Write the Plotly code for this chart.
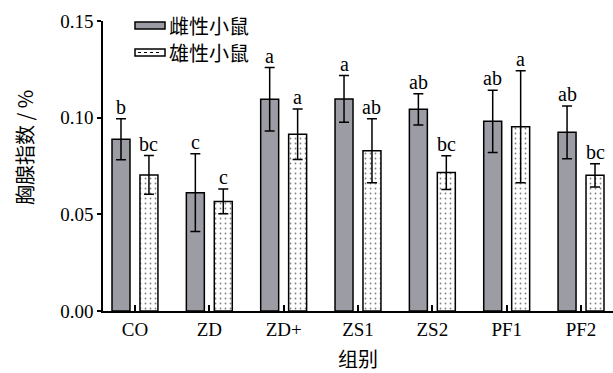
import plotly.graph_objects as go

# Thymus index by group, mean ± SD, with significance letters
groups = ["CO", "ZD", "ZD+", "ZS1", "ZS2", "PF1", "PF2"]
female_mean = [0.0888, 0.0612, 0.1095, 0.1097, 0.1043, 0.0981, 0.0924]
female_sd = [0.0106, 0.0201, 0.0164, 0.0121, 0.0081, 0.0161, 0.0136]
female_sig = ["b", "c", "a", "a", "ab", "ab", "ab"]
male_mean = [0.0704, 0.0567, 0.0914, 0.0829, 0.0716, 0.0953, 0.0702]
male_sd = [0.0100, 0.0064, 0.0131, 0.0165, 0.0087, 0.0290, 0.0060]
male_sig = ["bc", "c", "a", "ab", "bc", "a", "bc"]
series_names = ["雌性小鼠", "雄性小鼠"]
y_ticks = [0.00, 0.05, 0.10, 0.15]
y_title = "胸腺指数 / %"
x_title = "组别"

SERIF = "Liberation Serif"
CJK = "Noto Sans CJK SC"
BAR_W = 0.242
OFF_F = -0.309
OFF_M = 0.067
GRAY = "#9c9ca4"

fig = go.Figure()
fig.add_trace(go.Bar(
    x=groups, y=female_mean, name=series_names[0],
    width=BAR_W, offset=OFF_F,
    marker=dict(color=GRAY, line=dict(color="black", width=1.5)),
    error_y=dict(type="data", array=female_sd, color="black", thickness=1.5, width=5),
    showlegend=False,
))
fig.add_trace(go.Bar(
    x=groups, y=male_mean, name=series_names[1],
    width=BAR_W, offset=OFF_M,
    marker=dict(color="white", line=dict(color="black", width=1.5),
                pattern=dict(shape=".", fgcolor="black", bgcolor="white",
                             size=5, solidity=0.1)),
    error_y=dict(type="data", array=male_sd, color="black", thickness=1.5, width=5),
    showlegend=False,
))

annotations = []
for i in range(len(groups)):
    for mean, sd, sig, off in ((female_mean[i], female_sd[i], female_sig[i], OFF_F),
                               (male_mean[i], male_sd[i], male_sig[i], OFF_M)):
        annotations.append(dict(
            x=i + off + BAR_W / 2, y=mean + sd, xref="x", yref="y",
            text=sig, showarrow=False, yanchor="bottom", yshift=-1,
            font=dict(family=SERIF, size=20, color="black"),
        ))

# legend and y title placed in paper coordinates
W, H, L, T = 510.0, 290.0, 103.0, 21.0
def px(xp):
    return (xp - L) / W
def py(yp):
    return (T + H - yp) / H

shapes = [
    dict(type="rect", xref="paper", yref="paper",
         x0=px(135), x1=px(165), y0=py(29), y1=py(22),
         fillcolor=GRAY, line=dict(color="black", width=1.5)),
    dict(type="rect", xref="paper", yref="paper",
         x0=px(135), x1=px(165), y0=py(56), y1=py(49),
         fillcolor="white", line=dict(color="black", width=1.5)),
    dict(type="line", xref="paper", yref="paper",
         x0=px(138), x1=px(162), y0=py(52.5), y1=py(52.5),
         line=dict(color="black", width=1, dash="dot")),
]
for name, yc in zip(series_names, (25.5, 52.5)):
    annotations.append(dict(
        x=px(167), y=py(yc), xref="paper", yref="paper", text=name,
        showarrow=False, xanchor="left", yanchor="middle",
        font=dict(family=CJK, size=20, color="black"),
    ))
annotations.append(dict(
    x=px(24), y=py(148), xref="paper", yref="paper", text=y_title,
    showarrow=False, textangle=-90, xanchor="center", yanchor="middle",
    font=dict(family=CJK, size=20, color="black"),
))

fig.update_layout(
    width=613, height=373,
    margin=dict(l=103, r=0, t=21, b=62),
    paper_bgcolor="white", plot_bgcolor="white",
    barmode="overlay",
    annotations=annotations, shapes=shapes,
    showlegend=False,
)
fig.update_xaxes(
    range=[-0.43, 6.43], showline=True, linecolor="black", linewidth=1.5,
    ticks="inside", ticklen=6, tickwidth=1.5, tickcolor="black",
    tickfont=dict(family=SERIF, size=19, color="black"),
    title=dict(text=x_title, font=dict(family=CJK, size=20, color="black"), standoff=15),
    showgrid=False, zeroline=False,
)
fig.update_yaxes(
    range=[0, 0.15], tickvals=y_ticks, tickformat=".2f",
    showline=True, linecolor="black", linewidth=1.5,
    ticks="outside", ticklen=4, tickwidth=1.5, tickcolor="black",
    tickfont=dict(family=SERIF, size=19, color="black"),
    showgrid=False, zeroline=False,
)

fig.write_html("out.html")
